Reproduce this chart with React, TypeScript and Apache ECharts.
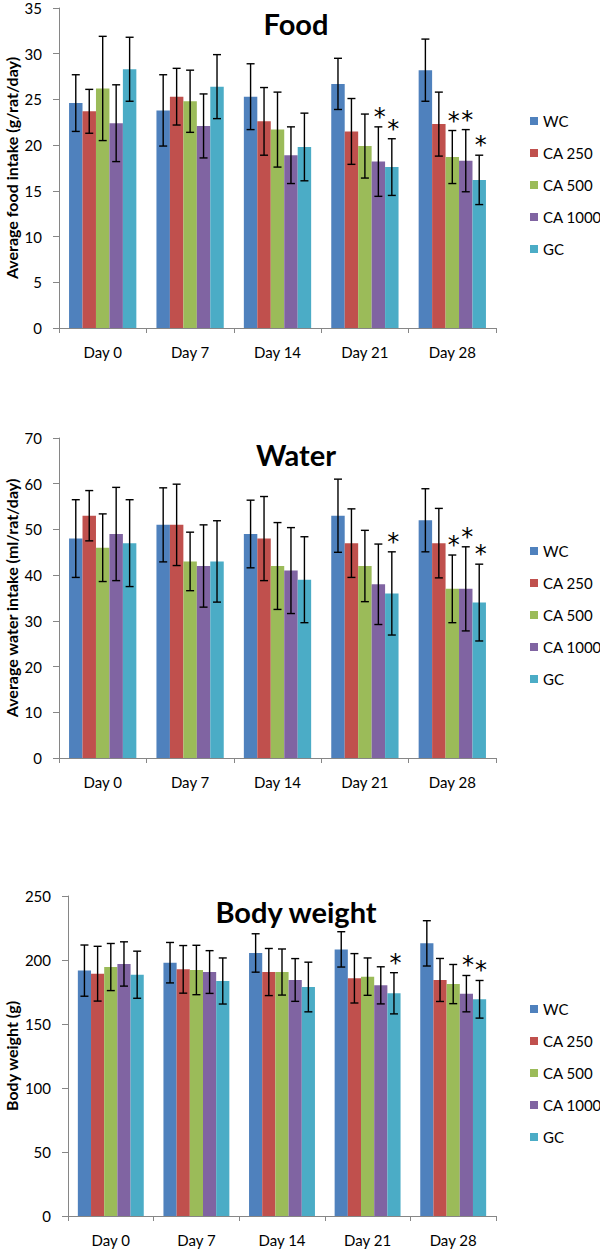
import React, { useEffect, useRef } from "react";
import * as echarts from "echarts";

const days = ["Day 0", "Day 7", "Day 14", "Day 21", "Day 28"];
const groups = ["WC", "CA 250", "CA 500", "CA 1000", "GC"];
const colors = ["#4F81BD", "#C0504D", "#9BBB59", "#8064A2", "#4BACC6"];

// Food intake (g/rat/day): means and SD per group
const foodWC = [24.6, 23.8, 25.3, 26.7, 28.2];
const foodCA250 = [23.7, 25.3, 22.6, 21.5, 22.3];
const foodCA500 = [26.2, 24.8, 21.7, 19.9, 18.7];
const foodCA1000 = [22.4, 22.1, 18.9, 18.2, 18.3];
const foodGC = [28.3, 26.4, 19.8, 17.6, 16.2];
const foodErrWC = [3.1, 3.9, 3.6, 2.8, 3.4];
const foodErrCA250 = [2.4, 3.1, 3.7, 3.6, 3.5];
const foodErrCA500 = [5.7, 3.4, 4.1, 3.5, 2.9];
const foodErrCA1000 = [4.2, 3.5, 3.1, 3.8, 3.4];
const foodErrGC = [3.5, 3.5, 3.7, 3.1, 2.7];
const foodStars = [
  [0, 0, 0, 0, 0],
  [0, 0, 0, 0, 0],
  [0, 0, 0, 0, 1],
  [0, 0, 0, 1, 1],
  [0, 0, 0, 1, 1],
];

// Water intake (ml/rat/day)
const waterWC = [48, 51, 49, 53, 52];
const waterCA250 = [53, 51, 48, 47, 47];
const waterCA500 = [46, 43, 42, 42, 37];
const waterCA1000 = [49, 42, 41, 38, 37];
const waterGC = [47, 43, 39, 36, 34];
const waterErrWC = [8.5, 8.1, 7.4, 8.0, 6.9];
const waterErrCA250 = [5.5, 8.9, 9.2, 7.5, 7.6];
const waterErrCA500 = [7.4, 6.4, 9.5, 7.8, 7.4];
const waterErrCA1000 = [10.2, 9.0, 9.4, 8.8, 9.2];
const waterErrGC = [9.5, 8.9, 9.4, 9.1, 8.4];
const waterStars = [
  [0, 0, 0, 0, 0],
  [0, 0, 0, 0, 0],
  [0, 0, 0, 0, 1],
  [0, 0, 0, 0, 1],
  [0, 0, 0, 1, 1],
];

// Body weight (g)
const bodyWC = [191.7, 197.9, 205.5, 208.3, 213.0];
const bodyCA250 = [189.3, 192.7, 190.6, 185.7, 184.4];
const bodyCA500 = [194.5, 192.2, 190.6, 187.0, 181.2];
const bodyCA1000 = [196.9, 190.6, 184.4, 180.2, 173.7];
const bodyGC = [188.5, 183.6, 178.9, 174.0, 169.3];
const bodyErrWC = [20.0, 15.8, 15.0, 13.8, 17.7];
const bodyErrCA250 = [21.4, 18.6, 18.4, 19.3, 16.8];
const bodyErrCA500 = [18.4, 19.3, 18.0, 14.6, 15.3];
const bodyErrCA1000 = [17.3, 16.7, 16.7, 14.5, 14.2];
const bodyErrGC = [18.4, 18.0, 19.4, 16.1, 14.7];
const bodyStars = [
  [0, 0, 0, 0, 0],
  [0, 0, 0, 0, 0],
  [0, 0, 0, 0, 0],
  [0, 0, 0, 0, 1],
  [0, 0, 0, 1, 1],
];

const charts = [
  {
    title: "Food",
    axisName: "Average food intake (g/rat/day)",
    max: 35,
    interval: 5,
    means: [foodWC, foodCA250, foodCA500, foodCA1000, foodGC],
    errs: [foodErrWC, foodErrCA250, foodErrCA500, foodErrCA1000, foodErrGC],
    stars: foodStars,
    grid: { left: 59, top: 8, width: 437, height: 320 },
    titleY: 23,
    legendTop: 108,
  },
  {
    title: "Water",
    axisName: "Average water intake (ml/rat/day)",
    max: 70,
    interval: 10,
    means: [waterWC, waterCA250, waterCA500, waterCA1000, waterGC],
    errs: [waterErrWC, waterErrCA250, waterErrCA500, waterErrCA1000, waterErrGC],
    stars: waterStars,
    grid: { left: 59, top: 438, width: 437, height: 320 },
    titleY: 454,
    legendTop: 538,
  },
  {
    title: "Body weight",
    axisName: "Body weight (g)",
    max: 250,
    interval: 50,
    means: [bodyWC, bodyCA250, bodyCA500, bodyCA1000, bodyGC],
    errs: [bodyErrWC, bodyErrCA250, bodyErrCA500, bodyErrCA1000, bodyErrGC],
    stars: bodyStars,
    grid: { left: 68, top: 896, width: 428, height: 320 },
    titleY: 911,
    legendTop: 996,
  },
];

const FONT = "Lato";
const CAT_GAP = 0.23;

export default function App() {
  const ref = useRef<HTMLDivElement>(null);

  useEffect(() => {
    if (!ref.current) return;
    const chart = echarts.init(ref.current, null, { renderer: "svg" });

    const grid: any[] = [];
    const xAxis: any[] = [];
    const yAxis: any[] = [];
    const series: any[] = [];
    const legend: any[] = [];
    const graphic: any[] = [];

    charts.forEach((c, ci) => {
      grid.push({ ...c.grid, containLabel: false });
      xAxis.push({
        type: "category",
        gridIndex: ci,
        data: days,
        axisLine: { lineStyle: { color: "#868686", width: 1 } },
        axisTick: { show: true, length: 5, lineStyle: { color: "#868686" } },
        axisLabel: { color: "#000", fontSize: 15, fontFamily: FONT, margin: 16 },
        splitLine: { show: false },
      });
      yAxis.push({
        type: "value",
        gridIndex: ci,
        min: 0,
        max: c.max,
        interval: c.interval,
        axisLine: { show: true, lineStyle: { color: "#868686", width: 1 } },
        axisTick: { show: true, length: 6, lineStyle: { color: "#868686" } },
        axisLabel: { color: "#000", fontSize: 15, fontFamily: FONT, margin: 17 },
        splitLine: { show: false },
      });
      c.means.forEach((m, gi) => {
        series.push({
          type: "bar",
          name: groups[gi],
          xAxisIndex: ci,
          yAxisIndex: ci,
          data: m,
          barGap: "0%",
          barCategoryGap: CAT_GAP * 100 + "%",
          itemStyle: { color: colors[gi] },
          silent: true,
        });
      });
      c.means.forEach((m, gi) => {
        const errData = m.map((v, i) => [i, v, c.errs[gi][i], c.stars[gi][i]]);
        series.push({
          type: "custom",
          name: groups[gi] + " error",
          xAxisIndex: ci,
          yAxisIndex: ci,
          data: errData,
          z: 10,
          silent: true,
          itemStyle: { color: "#000" },
          renderItem: (params: any, api: any) => {
            const idx = api.value(0);
            const mean = api.value(1);
            const err = api.value(2);
            const star = api.value(3);
            const top = api.coord([idx, mean + err]);
            const bot = api.coord([idx, mean - err]);
            const band = api.size([1, 0])[0];
            const groupW = band * (1 - CAT_GAP);
            const barW = groupW / groups.length;
            const x = top[0] - groupW / 2 + barW * (gi + 0.5);
            const cap = 4;
            const ls = { stroke: "#000", lineWidth: 1.4 };
            const children: any[] = [
              { type: "line", shape: { x1: x, y1: top[1], x2: x, y2: bot[1] }, style: ls },
              { type: "line", shape: { x1: x - cap, y1: top[1], x2: x + cap, y2: top[1] }, style: ls },
              { type: "line", shape: { x1: x - cap, y1: bot[1], x2: x + cap, y2: bot[1] }, style: ls },
            ];
            if (star) {
              children.push({
                type: "text",
                x: x + 1.5,
                y: top[1] - 10,
                style: {
                  text: "*",
                  fontSize: 24,
                  fontFamily: "DejaVu Sans",
                  fill: "#000",
                  align: "center",
                  verticalAlign: "middle",
                },
              });
            }
            return { type: "group", children };
          },
        });
      });
      legend.push({
        orient: "vertical",
        left: 525,
        top: c.legendTop,
        itemWidth: 8,
        itemHeight: 8,
        itemGap: 16,
        icon: "rect",
        data: groups,
        selectedMode: false,
        textStyle: { fontSize: 15, fontFamily: FONT, color: "#000", lineHeight: 16 },
      });
      graphic.push({
        type: "text",
        x: 296,
        y: c.titleY,
        style: {
          text: c.title,
          fontSize: 29,
          fontWeight: "bold",
          fontFamily: FONT,
          fill: "#000",
          align: "center",
          verticalAlign: "middle",
        },
      });
      graphic.push({
        type: "text",
        x: 11,
        y: c.grid.top + c.grid.height / 2,
        rotation: Math.PI / 2,
        style: {
          text: c.axisName,
          fontSize: 16,
          fontWeight: "bold",
          fontFamily: FONT,
          fill: "#000",
          align: "center",
          verticalAlign: "middle",
        },
      });
    });

    chart.setOption({
      animation: false,
      backgroundColor: "#fff",
      grid,
      xAxis,
      yAxis,
      series,
      legend,
      graphic,
    });

    return () => chart.dispose();
  }, []);

  return (
    <div
      ref={ref}
      style={{ position: "absolute", left: 0, top: 0, width: 600, height: 1250 }}
    />
  );
}
